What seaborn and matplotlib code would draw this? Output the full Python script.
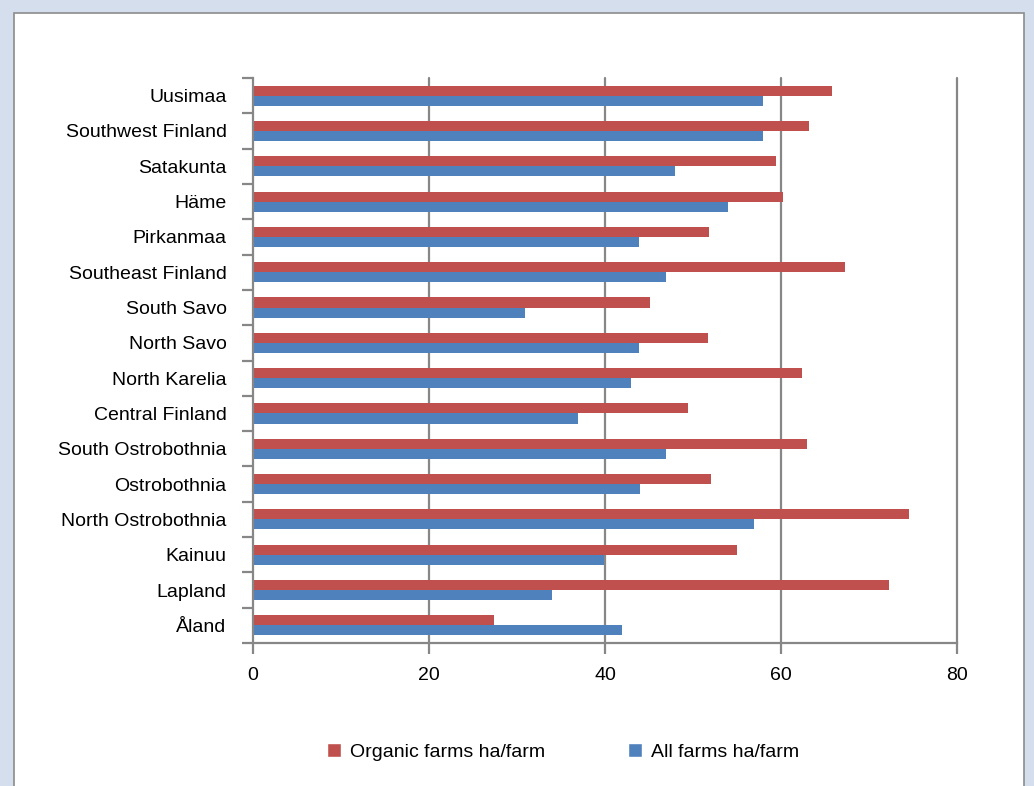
import matplotlib
matplotlib.use("Agg")
import matplotlib.pyplot as plt
from matplotlib.patches import Rectangle
import seaborn as sns
import pandas as pd
import numpy as np

regions = ["Uusimaa", "Southwest Finland", "Satakunta", "Häme", "Pirkanmaa",
           "Southeast Finland", "South Savo", "North Savo", "North Karelia",
           "Central Finland", "South Ostrobothnia", "Ostrobothnia",
           "North Ostrobothnia", "Kainuu", "Lapland", "Åland"]
organic_ha = [65.8, 63.2, 59.4, 60.2, 51.8, 67.3, 45.1, 51.7, 62.4,
              49.4, 63.0, 52.0, 74.5, 55.0, 72.3, 27.4]
all_ha = [58.0, 58.0, 48.0, 54.0, 43.9, 46.9, 30.9, 43.9, 43.0,
          36.9, 46.9, 44.0, 56.9, 39.9, 34.0, 41.9]
series_names = ["Organic farms ha/farm", "All farms ha/farm"]
x_ticks = [0, 20, 40, 60, 80]

df = pd.concat([
    pd.DataFrame({"region": regions, "ha": organic_ha, "series": series_names[0]}),
    pd.DataFrame({"region": regions, "ha": all_ha, "series": series_names[1]}),
], ignore_index=True)

sns.set_theme(style="white")
plt.rcParams["font.family"] = ["Liberation Sans", "DejaVu Sans"]
plt.rcParams["text.color"] = "black"

W, H = 1034, 786
fig = plt.figure(figsize=(W / 100, H / 100), dpi=100)
fig.patch.set_facecolor("#D4DEEC")

# white chart panel with thin grey frame, kept behind the axes
panel = Rectangle((14 / W, -0.01), (1024 - 14) / W, (H - 13) / H + 0.01,
                  transform=fig.transFigure, facecolor="white",
                  edgecolor="#8C8C8C", linewidth=1.2, zorder=-10)
fig.add_artist(panel)

ax = fig.add_axes([253 / W, (H - 643) / H, (957 - 253) / W, (643 - 78) / H])
ax.set_zorder(5)
ax.set_facecolor("none")

sns.barplot(data=df, y="region", x="ha", hue="series", orient="h",
            palette={series_names[0]: "#C0504D", series_names[1]: "#4F81BD"},
            width=0.57, dodge=True, ax=ax, legend=False, saturation=1,
            linewidth=0, edgecolor="none")

ax.set_xlim(0, 80)
ax.set_ylim(len(regions) - 0.5, -0.5)
ax.set_xticks(x_ticks)
ax.set_xticklabels([str(t) for t in x_ticks])
ax.set_xlabel("")
ax.set_ylabel("")

grid_c = "#878787"
for t in x_ticks[1:]:
    ax.axvline(t, color=grid_c, lw=1.6, zorder=0, clip_on=False)

for side in ["top", "right"]:
    ax.spines[side].set_visible(False)
for side in ["left", "bottom"]:
    ax.spines[side].set_color(grid_c)
    ax.spines[side].set_linewidth(1.6)

ax.tick_params(axis="x", which="major", length=8, width=1.6, color=grid_c,
               labelsize=14, pad=9, labelcolor="black", direction="out", bottom=True)
ax.tick_params(axis="y", which="major", length=0, labelsize=14, pad=19,
               labelcolor="black")
ax.set_yticks(np.arange(-0.5, len(regions) + 0.5, 1.0), minor=True)
ax.tick_params(axis="y", which="minor", length=8, width=1.6, color=grid_c,
               direction="out", left=True)

handles = [Rectangle((0, 0), 1, 1, facecolor=c) for c in ["#C0504D", "#4F81BD"]]
fig.legend(handles, series_names, loc="center", bbox_to_anchor=(563 / W, 1 - 752 / H),
           ncol=2, frameon=False, fontsize=14, handlelength=0.7, handleheight=0.7,
           handletextpad=0.45, columnspacing=4.3, labelcolor="black")

fig.savefig("out.png", dpi=100, facecolor=fig.get_facecolor())
